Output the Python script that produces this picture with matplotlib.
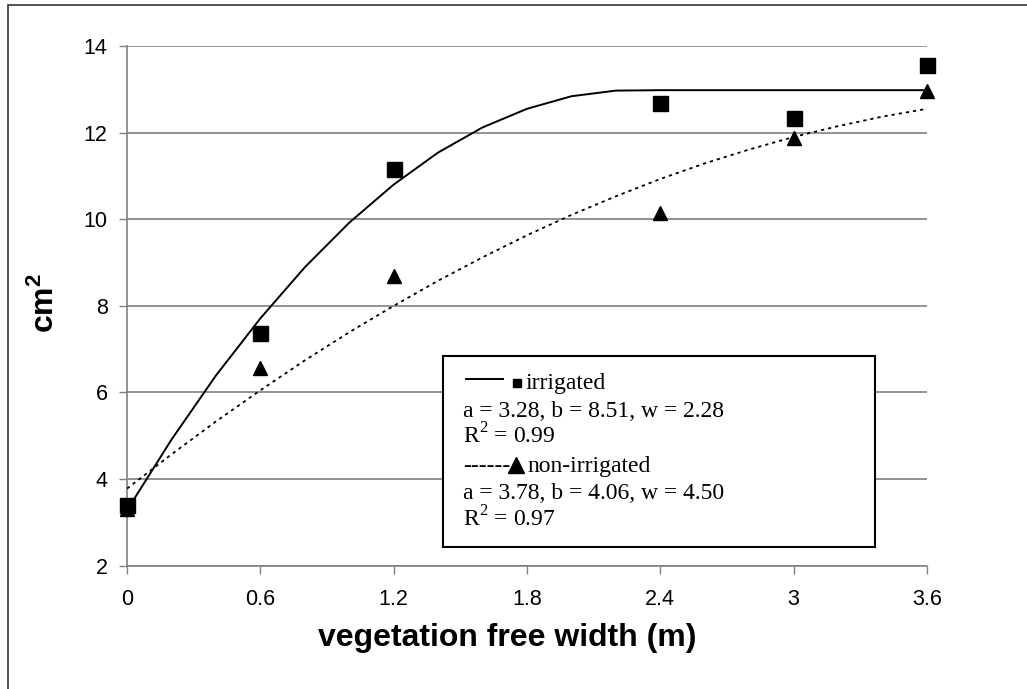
import numpy as np
import matplotlib
matplotlib.use('Agg')
import matplotlib.pyplot as plt
from matplotlib.patches import Rectangle

# measured points
x_obs = [0, 0.6, 1.2, 2.4, 3.0, 3.6]
irrigated = [3.40, 7.38, 11.16, 12.69, 12.33, 13.56]
non_irrigated = [3.30, 6.56, 8.69, 10.14, 11.88, 12.95]

# fitted curves, read at 0.2 m steps
x_fit = [0, 0.2, 0.4, 0.6, 0.8, 1.0, 1.2, 1.4, 1.6, 1.8, 2.0, 2.2, 2.4,
         2.6, 2.8, 3.0, 3.2, 3.4, 3.6]
fit_irr = [3.28, 4.91, 6.39, 7.71, 8.89, 9.92, 10.80, 11.54, 12.12, 12.55,
           12.84, 12.97, 12.98, 12.98, 12.98, 12.98, 12.98, 12.98, 12.98]
fit_non = [3.78, 4.57, 5.33, 6.05, 6.74, 7.39, 8.00, 8.58, 9.12, 9.63,
           10.10, 10.53, 10.93, 11.29, 11.61, 11.90, 12.15, 12.37, 12.55]

x_ticks = [0, 0.6, 1.2, 1.8, 2.4, 3.0, 3.6]
x_ticklabels = ['0', '0.6', '1.2', '1.8', '2.4', '3', '3.6']
y_ticks = [2, 4, 6, 8, 10, 12, 14]

legend_lines = ['irrigated', 'a = 3.28, b = 8.51, w = 2.28', r'R$^\mathrm{2}$ = 0.99',
                'non-irrigated', 'a = 3.78, b = 4.06, w = 4.50', r'R$^\mathrm{2}$ = 0.97']

plt.rcParams['font.family'] = ['Liberation Sans', 'DejaVu Sans']
plt.rcParams['mathtext.fontset'] = 'custom'
plt.rcParams['mathtext.rm'] = 'Liberation Serif'
plt.rcParams['mathtext.bf'] = 'Liberation Sans:bold'

W, H = 1027, 689
fig = plt.figure(figsize=(W / 100, H / 100), dpi=100)

def fx(px):
    return px / W

def fy(py):
    return 1 - py / H

# outer frame (only left/top visible)
fig.patches.append(Rectangle((fx(8), -0.1), 1.2, fy(5) + 0.1, transform=fig.transFigure,
                             fill=False, edgecolor='#333333', linewidth=1.2))

ax = fig.add_axes([fx(127), fy(565.7), fx(927) - fx(127), fy(46) - fy(565.7)])
ax.set_xlim(0, 3.6)
ax.set_ylim(2, 14)
ax.set_xticks(x_ticks)
ax.set_xticklabels(x_ticklabels)
ax.set_yticks(y_ticks)
ax.tick_params(axis='both', labelsize=15.5, length=6, width=1, color='#808080', direction='out')
ax.tick_params(axis='x', pad=11)
ax.tick_params(axis='y', pad=8)
for s in ['top', 'right']:
    ax.spines[s].set_visible(False)
for s in ['left', 'bottom']:
    ax.spines[s].set_color('#808080')
    ax.spines[s].set_linewidth(1.2)
ax.grid(axis='y', color='#808080', linewidth=1.2)
ax.set_axisbelow(True)

ax.plot(x_fit, fit_irr, color='black', linewidth=1.4, zorder=3)
ax.plot(x_fit, fit_non, color='black', linewidth=1.3, dashes=(1.8, 2.2), zorder=3)
ax.plot(x_obs, non_irrigated, linestyle='none', marker='^', markersize=9.7,
        color='black', clip_on=False, zorder=4)
ax.plot(x_obs, irrigated, linestyle='none', marker='s', markersize=10.8,
        color='black', clip_on=False, zorder=5)

fig.text(fx(507), fy(646), 'vegetation free width (m)', fontsize=23, fontweight='bold',
         ha='center', va='baseline')
fig.text(fx(45), fy(303), r'$\mathbf{cm^2}$', fontsize=23, rotation=90,
         ha='center', va='center')

# legend box
bx0, by0, bx1, by1 = 443, 356, 875, 547.3
lg = fig.add_axes([fx(bx0), fy(by1), fx(bx1) - fx(bx0), fy(by0) - fy(by1)], zorder=10)
bw, bh = bx1 - bx0, by1 - by0
lg.set_xlim(0, bw)
lg.set_ylim(bh, 0)
lg.set_xticks([])
lg.set_yticks([])
for s in lg.spines.values():
    s.set_linewidth(1.5)
    s.set_color('black')

serif = ['Liberation Serif', 'DejaVu Serif']
fs = 17
baselines = [33.3, 60.7, 87.5, 115.7, 143.0, 170.7]
lg.plot([23, 60], [23.3, 23.3], color='black', linewidth=1.4)
lg.plot([73.7], [27.0], marker='s', markersize=5.8, color='black', linestyle='none')
lg.text(82.5, baselines[0], legend_lines[0], family=serif, fontsize=fs, va='baseline')
lg.text(20.3, baselines[1], legend_lines[1], family=serif, fontsize=fs, va='baseline')
lg.text(20.3, baselines[2], legend_lines[2], family=serif, fontsize=fs, va='baseline')
lg.text(20.3, baselines[3], '------', family=serif, fontsize=fs, va='baseline')
lg.plot([73.0], [108.5], marker='^', markersize=11, color='black', linestyle='none')
lg.text(84.0, baselines[3], legend_lines[3], family=serif, fontsize=fs, va='baseline')
lg.text(20.3, baselines[4], legend_lines[4], family=serif, fontsize=fs, va='baseline')
lg.text(20.3, baselines[5], legend_lines[5], family=serif, fontsize=fs, va='baseline')

fig.savefig('out.png', dpi=100)
